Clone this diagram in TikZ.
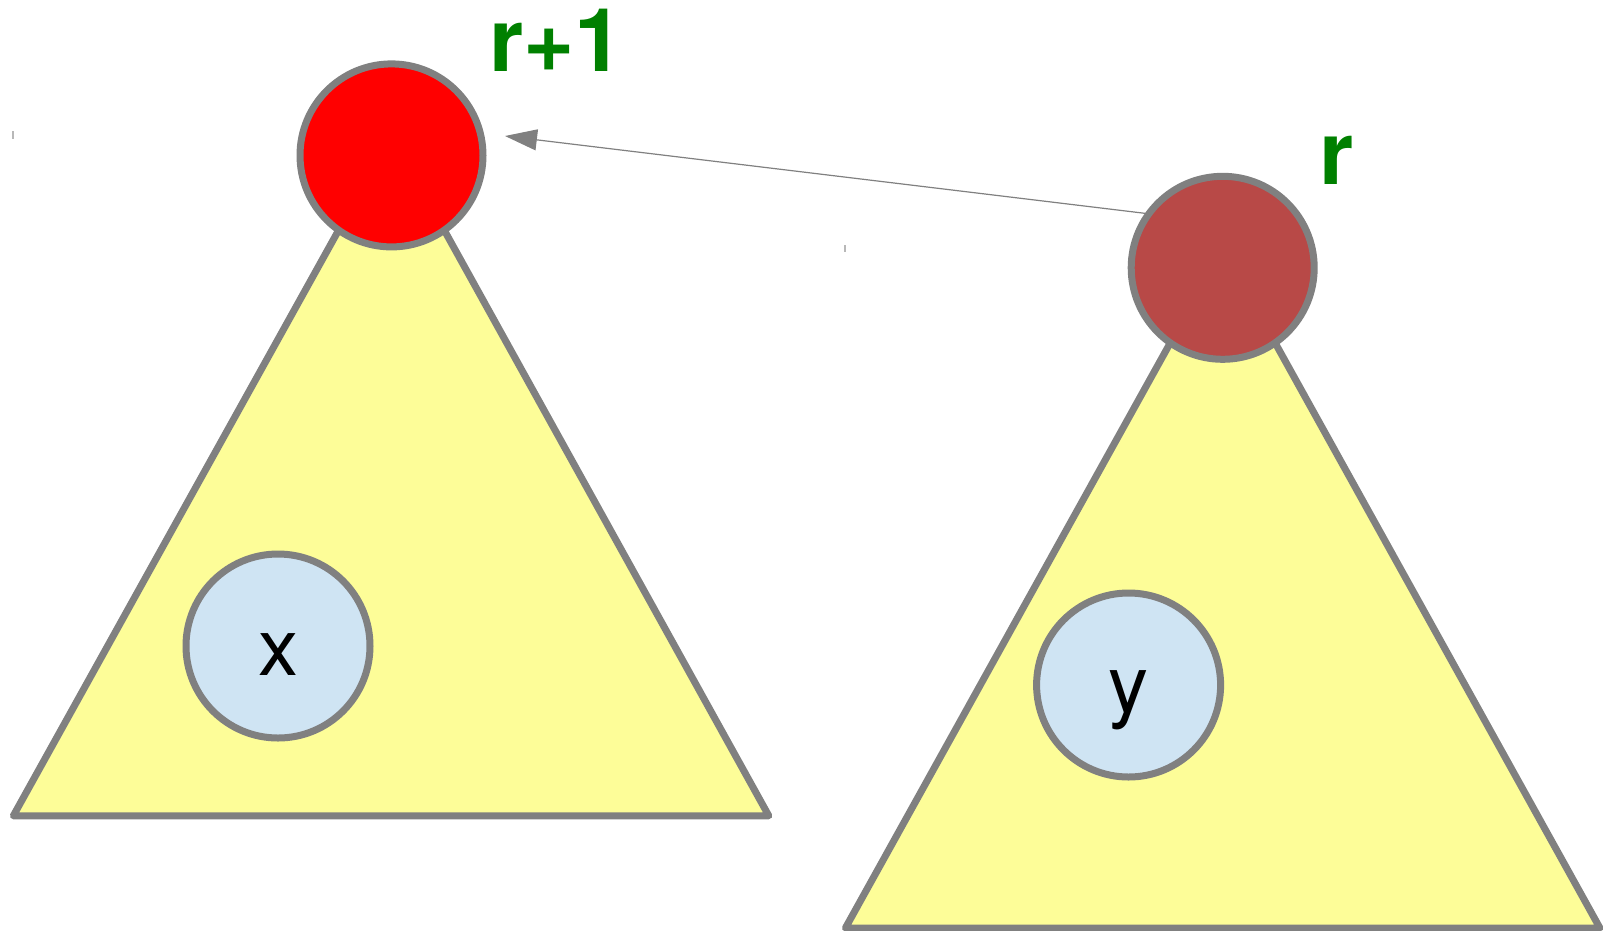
\documentclass[tikz,border=0pt]{standalone}
\usepackage{fontspec}
\setmainfont{TeX Gyre Heros}
\usetikzlibrary{arrows.meta}
\definecolor{treeyellow}{HTML}{FDFD98}
\definecolor{edgegray}{HTML}{808080}
\definecolor{rootred}{HTML}{FF0000}
\definecolor{rootbrown}{HTML}{B84947}
\definecolor{nodeblue}{HTML}{CFE4F3}
\definecolor{rankgreen}{HTML}{008000}
\definecolor{tickgray}{HTML}{B8B8B8}
\tikzset{
  tree/.style={draw=edgegray, fill=treeyellow, line width=7pt, line join=round},
  rootnode/.style={circle, draw=edgegray, line width=7pt, minimum size=183pt, inner sep=0pt},
  elem/.style={circle, draw=edgegray, fill=nodeblue, line width=7pt, minimum size=184pt, inner sep=0pt},
  elemlabel/.style={font=\fontsize{80}{90}\selectfont, text=black, inner sep=0pt, anchor=base},
  ranklabel/.style={font=\fontsize{88}{100}\selectfont\bfseries, text=rankgreen, inner sep=0pt, anchor=base west},
  link/.style={draw=edgegray, line width=1.2pt, -{Triangle[length=32pt,width=21pt]}},
  tick/.style={draw=tickgray, line width=2pt}
}
\begin{document}
\begin{tikzpicture}[x=1pt,y=-1pt]
\useasboundingbox (0,0) rectangle (1603,930);
% trees
\draw[tree] (13.3,815.8) -- (391.5,135) -- (768.8,815.8) -- cycle;
\draw[tree] (845.4,928) -- (1222.7,248.4) -- (1599.9,928) -- cycle;
% tiny ticks
\draw[tick] (13.3,131) -- (13.3,139);
\draw[tick] (845.4,245) -- (845.4,252);
% root nodes
\node[rootnode, fill=rootred] (rootA) at (391.5,155.4) {};
\node[rootnode, fill=rootbrown] (rootB) at (1222.7,267.8) {};
% elements
\node[elem] (ex) at (278,646) {};
\node[elem] (ey) at (1128.6,685) {};
\node[elemlabel] (lx) at (278,675.5) {x};
\node[elemlabel] (ly) at (1128.6,712.5) {y};
% rank labels
\node[ranklabel] (rA) at (489,71.6) {r+1};
\node[ranklabel] (rB) at (1319,184) {r};
% link
\coordinate (tipA) at (505,136);
\draw[link] (rootB.145) -- (tipA);
\end{tikzpicture}
\end{document}
